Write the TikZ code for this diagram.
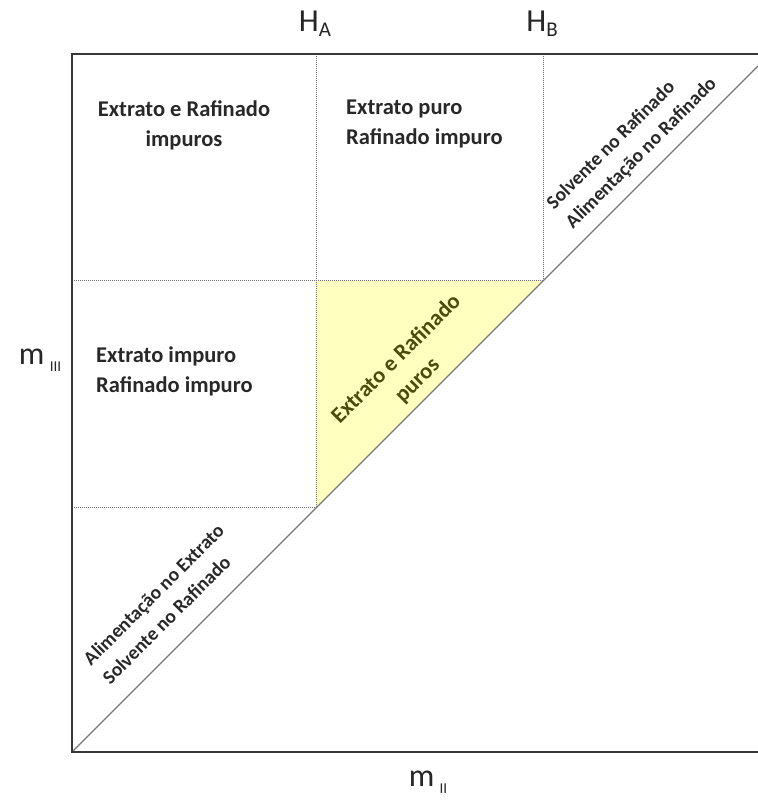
\documentclass[tikz,border=0pt]{standalone}
\usepackage{fontspec}
\setmainfont{Carlito}
\definecolor{axiscol}{RGB}{55,55,55}
\definecolor{diagcol}{RGB}{120,120,120}
\definecolor{dotcol}{RGB}{110,110,110}
\definecolor{yellowfill}{RGB}{255,255,192}
\definecolor{txtcol}{RGB}{40,40,40}
\definecolor{olive}{RGB}{75,75,10}
\tikzset{
  axisline/.style={draw=axiscol,line width=2.6pt},
  diagline/.style={draw=diagcol,line width=1.1pt},
  dotline/.style={draw=dotcol,line width=1pt,dash pattern=on 1pt off 1pt},
  regiontxt/.style={text=txtcol,font=\fontsize{22.5}{30}\selectfont\bfseries,inner sep=0pt},
  sidetxt/.style={text=txtcol,font=\fontsize{19.5}{27}\selectfont\bfseries,inner sep=0pt,rotate=45,align=left},
  axlabel/.style={text=black!85,font=\fontsize{32}{32}\selectfont,inner sep=0pt}
}
\begin{document}
\begin{tikzpicture}[x=1pt,y=-1pt]
\useasboundingbox (0,0) rectangle (758,804);
% key coordinates
\coordinate (O) at (72,752);
\coordinate (TL) at (72,54);
\coordinate (TR) at (758,54);
\coordinate (BR) at (758,752);
\coordinate (DE) at (758,66);
\coordinate (HAt) at (316,54);
\coordinate (HBt) at (543,54);
\coordinate (P1) at (316,507);
\coordinate (P2) at (543,280);
\coordinate (L1) at (72,280);
\coordinate (L2) at (72,507);
% yellow region
\fill[yellowfill] (P1) -- (316,280) -- (P2) -- cycle;
% dotted boundaries
\draw[dotline] (HAt) -- (P1);
\draw[dotline] (HBt) -- (P2);
\draw[dotline] (L1) -- (P2);
\draw[dotline] (L2) -- (P1);
% diagonal
\draw[diagline] (O) -- (DE);
% axes
\draw[axisline] (TR) -- (TL) -- (O) -- (BR);
% axis labels
\node[axlabel] (ha) at (315,24) {H\raisebox{-5pt}{\fontsize{21}{21}\selectfont A}};
\node[axlabel] (hb) at (542,24) {H\raisebox{-5pt}{\fontsize{21}{21}\selectfont B}};
\node[axlabel] (m3) at (40,360) {m\,\raisebox{-7pt}{\fontsize{15}{15}\selectfont III}};
\node[axlabel] (m2) at (428,782) {m\,\raisebox{-7pt}{\fontsize{15}{15}\selectfont II}};
% region texts
\node[regiontxt,align=center] (r1) at (184,125) {Extrato e Rafinado\\impuros};
\node[regiontxt,align=left,anchor=north west] (r2) at (346,100) {Extrato puro\\Rafinado impuro};
\node[regiontxt,align=left,anchor=north west] (r3) at (96,347) {Extrato impuro\\Rafinado impuro};
\node[regiontxt,text=olive,align=center,rotate=45] (r4) at (407,370) {Extrato e Rafinado\\puros};
\node[sidetxt] (r5) at (632,144) {Solvente no Rafinado\\Alimentação no Rafinado};
\node[sidetxt] (r6) at (163,604) {Alimentação no Extrato\\Solvente no Rafinado};
\end{tikzpicture}
\end{document}
